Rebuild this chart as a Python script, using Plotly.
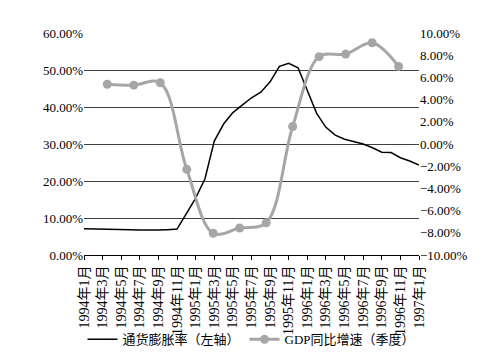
import plotly.graph_objects as go

months = [
    "1994年1月", "1994年2月", "1994年3月", "1994年4月", "1994年5月", "1994年6月",
    "1994年7月", "1994年8月", "1994年9月", "1994年10月", "1994年11月", "1994年12月",
    "1995年1月", "1995年2月", "1995年3月", "1995年4月", "1995年5月", "1995年6月",
    "1995年7月", "1995年8月", "1995年9月", "1995年10月", "1995年11月", "1995年12月",
    "1996年1月", "1996年2月", "1996年3月", "1996年4月", "1996年5月", "1996年6月",
    "1996年7月", "1996年8月", "1996年9月", "1996年10月", "1996年11月", "1996年12月",
    "1997年1月",
]
inflation = [
    7.1, 7.0, 6.95, 6.9, 6.85, 6.8, 6.75, 6.7, 6.75, 6.85, 7.0, 11.2,
    15.4, 20.6, 30.8, 35.4, 38.5, 40.5, 42.5, 44.0, 46.8, 51.0, 51.8, 50.6,
    44.7, 38.3, 34.5, 32.4, 31.3, 30.7, 30.0, 29.0, 27.8, 27.7, 26.3, 25.4,
    24.3,
]
quarters = ["1994Q1", "1994Q2", "1994Q3", "1994Q4", "1995Q1", "1995Q2",
            "1995Q3", "1995Q4", "1996Q1", "1996Q2", "1996Q3", "1996Q4"]
gdp = [5.38, 5.30, 5.52, -2.28, -8.04, -7.57, -7.10, 1.58, 7.87, 8.10, 9.12, 6.99]

tick_labels = months[::2]

FONT = "Liberation Serif, Noto Sans CJK SC, serif"

fig = go.Figure()
fig.add_trace(go.Scatter(
    x=months, y=inflation, name="通货膨胀率（左轴）", mode="lines",
    line=dict(color="#000000", width=1.5), xaxis="x", yaxis="y",
))
fig.add_trace(go.Scatter(
    x=quarters, y=gdp, name="GDP同比增速（季度）", mode="lines+markers",
    line=dict(color="#a6a6a6", width=3, shape="spline", smoothing=1),
    marker=dict(color="#a6a6a6", size=9),
    xaxis="x2", yaxis="y2",
))

fig.update_layout(
    width=491, height=358,
    margin=dict(l=76, r=80, t=25, b=105),
    paper_bgcolor="white", plot_bgcolor="white",
    font=dict(family=FONT, size=13, color="#000000"),
    showlegend=True,
    legend=dict(orientation="h", x=0.5, xanchor="center", y=-0.38, yanchor="middle",
                font=dict(family=FONT, size=13, color="#000000"),
                itemwidth=30, bgcolor="rgba(0,0,0,0)"),
    xaxis=dict(
        type="category", categoryorder="array", categoryarray=months,
        range=[0, len(months) - 1],
        tickmode="array", tickvals=tick_labels, ticktext=tick_labels,
        tickangle=-90, ticks="outside", ticklen=4, tickcolor="#000000",
        showline=True, linecolor="#000000", linewidth=1,
        showgrid=False, zeroline=False,
        tickfont=dict(family=FONT, size=14, color="#000000"),
    ),
    xaxis2=dict(
        type="category", categoryorder="array", categoryarray=quarters,
        overlaying="x", range=[-0.88, 11.77], visible=False,
    ),
    yaxis=dict(
        range=[0, 60], dtick=10, tickformat=".2f", ticksuffix="%",
        showgrid=True, gridcolor="#404040", gridwidth=1,
        zeroline=False, showline=False, ticks="",
        tickfont=dict(family=FONT, size=13, color="#000000"),
    ),
    yaxis2=dict(
        range=[-10, 10], dtick=2, tickformat=".2f", ticksuffix="%",
        overlaying="y", side="right", showgrid=False, zeroline=False,
        showline=False, ticks="",
        tickfont=dict(family=FONT, size=13, color="#000000"),
    ),
)

fig.write_html("out.html")
